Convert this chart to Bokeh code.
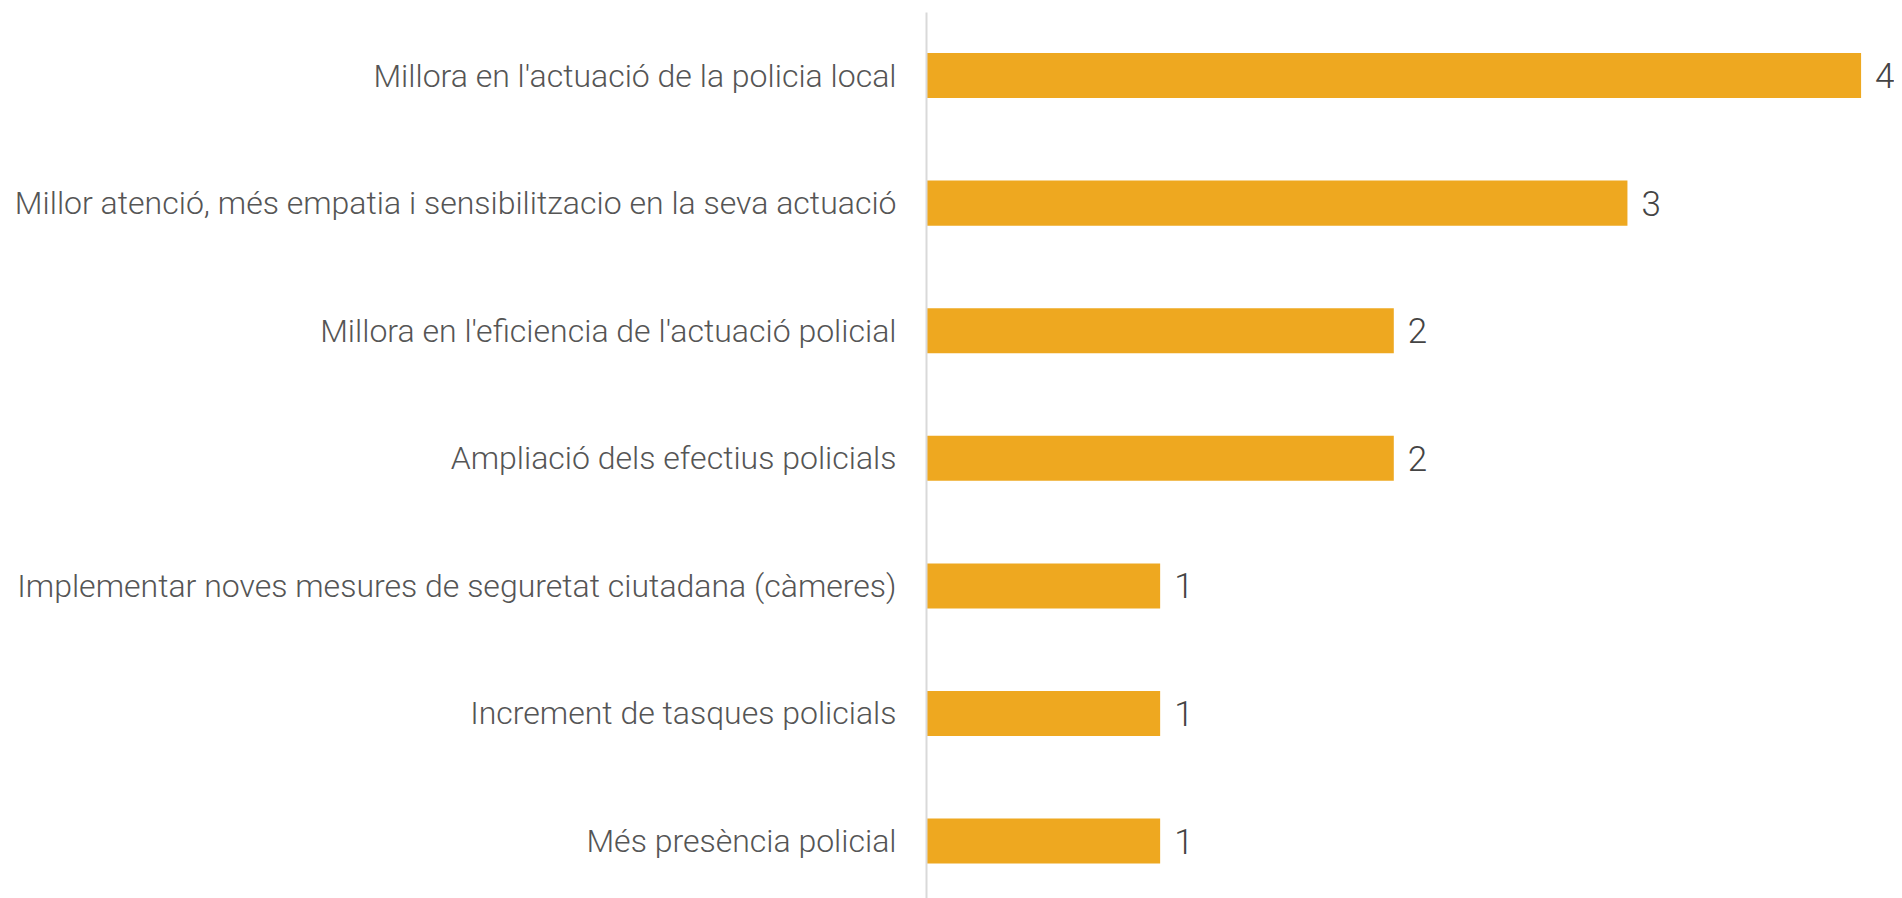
from bokeh.plotting import figure
from bokeh.models import ColumnDataSource, Range1d, FixedTicker
from bokeh.core.properties import value
from bokeh.embed import file_html
from bokeh.resources import INLINE

categories = [
    "Millora en l'actuació de la policia local",
    "Millor atenció, més empatia i sensibilitzacio en la seva actuació",
    "Millora en l'eficiencia de l'actuació policial",
    "Ampliació dels efectius policials",
    "Implementar noves mesures de seguretat ciutadana (càmeres)",
    "Increment de tasques policials",
    "Més presència policial",
]
counts = [4, 3, 2, 2, 1, 1, 1]

ypos = list(range(len(categories)))
src = ColumnDataSource(dict(y=ypos, v=counts, lbl=[str(c) for c in counts]))

FONT = "Roboto Light"

p = figure(width=1894, height=898, output_backend="svg", toolbar_location=None,
           x_range=Range1d(0, 4.143), y_range=Range1d(6.45, -0.494),
           min_border_left=926, min_border_right=0, min_border_top=12, min_border_bottom=0)
p.outline_line_color = None
p.grid.visible = False
p.xaxis.visible = False

p.hbar(y="y", right="v", left=0, height=0.353, source=src,
       fill_color="#EEA820", line_color=None)
p.text(x="v", y="y", text="lbl", source=src, x_offset=14,
       text_font=value(FONT), text_font_size="35px", text_color="#444444",
       text_baseline="middle", text_align="left")

ax = p.yaxis[0]
ax.ticker = FixedTicker(ticks=ypos)
ax.major_label_overrides = {i: c for i, c in enumerate(categories)}
ax.major_tick_line_color = None
ax.minor_tick_line_color = None
ax.axis_line_color = "#d9d9d9"
ax.axis_line_width = 2
ax.major_label_standoff = 24
ax.major_label_text_font = FONT
ax.major_label_text_font_size = "32px"
ax.major_label_text_color = "#555555"

open("out.html", "w").write(file_html(p, INLINE))
